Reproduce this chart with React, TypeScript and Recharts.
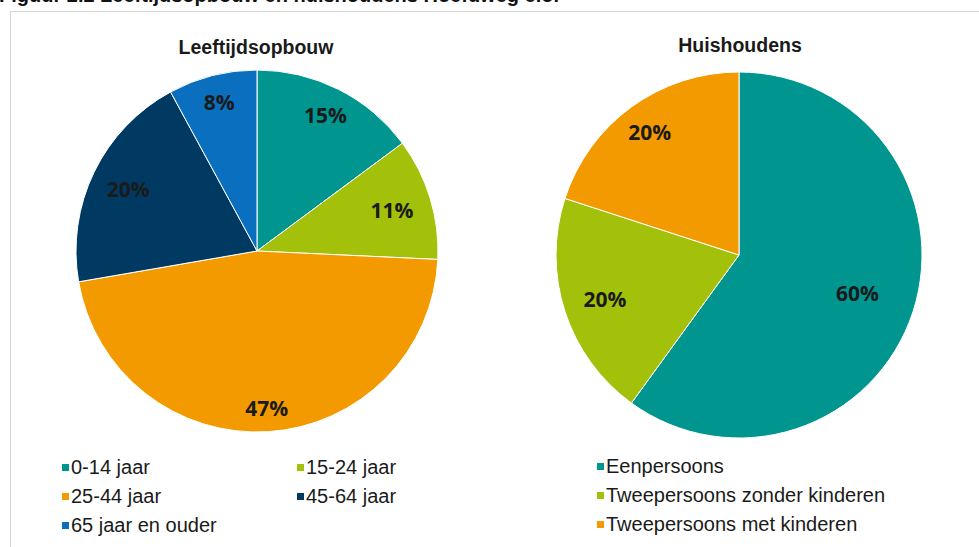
import React from "react";
import { PieChart, Pie, Cell } from "recharts";

// Leeftijdsopbouw (percentages)
const ageLabels = ["0-14 jaar", "15-24 jaar", "25-44 jaar", "45-64 jaar", "65 jaar en ouder"];
const ageValues = [15, 11, 47, 20, 8];
const ageColors = ["#00968f", "#a3c10a", "#f39a00", "#003a63", "#0a6fbf"];

// Huishoudens (percentages)
const hhLabels = ["Eenpersoons", "Tweepersoons zonder kinderen", "Tweepersoons met kinderen"];
const hhValues = [60, 20, 20];
const hhColors = ["#00968f", "#a3c10a", "#f39a00"];

// where each percentage sits, as a fraction of the radius
const ageLabelPos = [0.84, 0.78, 0.87, 0.79, 0.85];
const hhLabelPos = [0.68, 0.77, 0.83];

const ageData = ageLabels.map((name, i) => ({ name, value: ageValues[i] }));
const hhData = hhLabels.map((name, i) => ({ name, value: hhValues[i] }));

const RADIAN = Math.PI / 180;

function makeLabel(pos: number[]) {
    return (props: any) => {
        const { cx, cy, midAngle, outerRadius, index, value } = props;
        const r = outerRadius * pos[index];
        const x = cx + r * Math.cos(-midAngle * RADIAN);
        const y = cy + r * Math.sin(-midAngle * RADIAN);
        return (
            <text
                x={x}
                y={y}
                textAnchor="middle"
                dominantBaseline="central"
                fill="#1a1a1a"
                style={{ fontFamily: "'Open Sans', sans-serif", fontWeight: 700, fontSize: 21 }}
            >
                {`${value}%`}
            </text>
        );
    };
}

const legendText: React.CSSProperties = {
    fontFamily: "'Liberation Sans', Arial, sans-serif",
    fontSize: 20,
    color: "#1a1a1a",
    whiteSpace: "nowrap",
    lineHeight: "20px",
};

function LegendItem({ x, y, color, label }: { x: number; y: number; color: string; label: string }) {
    return (
        <div style={{ position: "absolute", left: x, top: y - 10, display: "flex", alignItems: "center", ...legendText }}>
            <span style={{ display: "inline-block", width: 7, height: 7, background: color, marginRight: 2 }} />
            <span>{label}</span>
        </div>
    );
}

const titleStyle: React.CSSProperties = {
    position: "absolute",
    fontFamily: "'Liberation Sans', Arial, sans-serif",
    fontWeight: 700,
    fontSize: 19.5,
    color: "#1a1a1a",
    whiteSpace: "nowrap",
    transform: "translateX(-50%)",
    lineHeight: "24px",
};

export default function App() {
    const ageCols = [62, 297];
    const ageRows = [467, 496, 525];
    const hhRows = [466, 495, 524];

    return (
        <div style={{ position: "absolute", left: 0, top: 0, width: 979, height: 547, overflow: "hidden", background: "#fff" }}>
            {/* figure caption, cut off at the top edge as in the source */}
            <div
                style={{
                    position: "absolute",
                    left: -1,
                    top: -17,
                    fontFamily: "'Liberation Sans', Arial, sans-serif",
                    fontWeight: 700,
                    fontSize: 20,
                    lineHeight: "24px",
                    color: "#111",
                    whiteSpace: "nowrap",
                }}
            >
                Figuur 2.2 Leeftijdsopbouw en huishoudens Hoefdweg e.o.
            </div>
            {/* frame */}
            <div
                style={{
                    position: "absolute",
                    left: 10,
                    top: 11,
                    width: 1000,
                    height: 600,
                    borderLeft: "1px solid #d6d6d6",
                    borderTop: "1px solid #d6d6d6",
                }}
            />
            <div style={{ position: "absolute", left: 0, top: 0 }}>
                <PieChart width={979} height={547} margin={{ top: 0, right: 0, bottom: 0, left: 0 }}>
                    <Pie
                        data={ageData}
                        dataKey="value"
                        nameKey="name"
                        cx={257}
                        cy={251}
                        outerRadius={181}
                        startAngle={90}
                        endAngle={-270}
                        stroke="#ffffff"
                        strokeWidth={1}
                        label={makeLabel(ageLabelPos)}
                        labelLine={false}
                        isAnimationActive={false}
                    >
                        {ageData.map((_, i) => (
                            <Cell key={i} fill={ageColors[i]} />
                        ))}
                    </Pie>
                    <Pie
                        data={hhData}
                        dataKey="value"
                        nameKey="name"
                        cx={739}
                        cy={255}
                        outerRadius={183}
                        startAngle={90}
                        endAngle={-270}
                        stroke="#ffffff"
                        strokeWidth={1}
                        label={makeLabel(hhLabelPos)}
                        labelLine={false}
                        isAnimationActive={false}
                    >
                        {hhData.map((_, i) => (
                            <Cell key={i} fill={hhColors[i]} />
                        ))}
                    </Pie>
                </PieChart>
            </div>
            <div style={{ ...titleStyle, left: 256, top: 35 }}>Leeftijdsopbouw</div>
            <div style={{ ...titleStyle, left: 740, top: 33 }}>Huishoudens</div>

            {ageLabels.map((label, i) => (
                <LegendItem key={label} x={ageCols[i % 2]} y={ageRows[Math.floor(i / 2)]} color={ageColors[i]} label={label} />
            ))}
            {hhLabels.map((label, i) => (
                <LegendItem key={label} x={597} y={hhRows[i]} color={hhColors[i]} label={label} />
            ))}
        </div>
    );
}
